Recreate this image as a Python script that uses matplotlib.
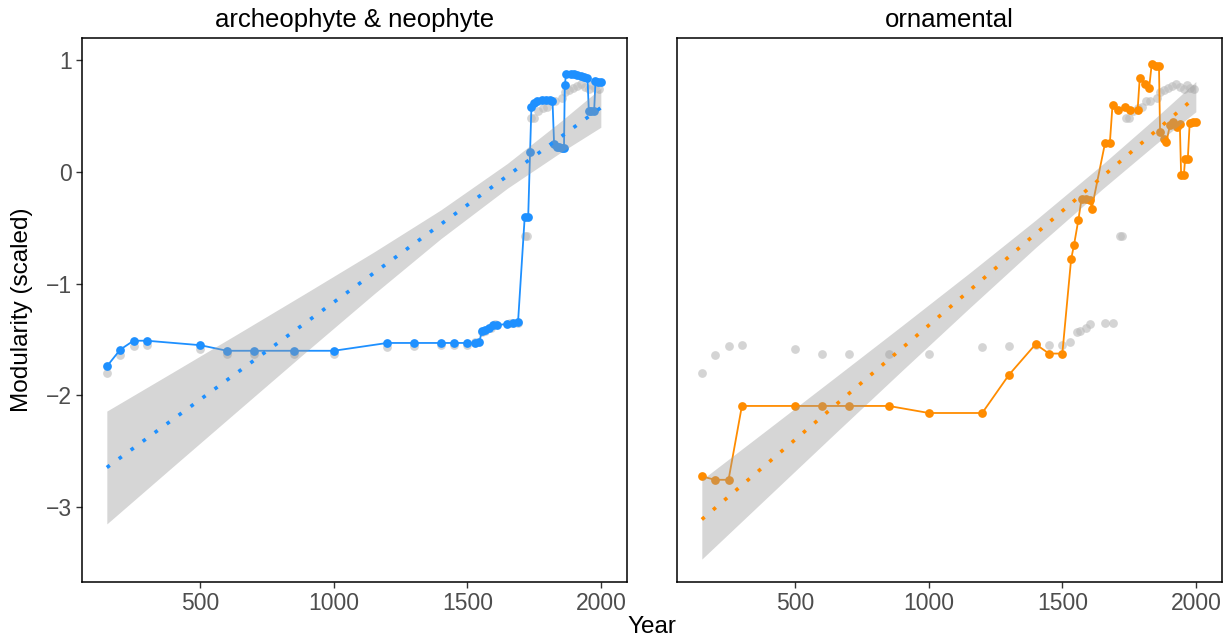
import matplotlib
matplotlib.use("Agg")
import matplotlib.pyplot as plt

plt.rcParams['font.family'] = ['Liberation Sans', 'DejaVu Sans']

# gray reference points (drawn in both panels)
ref_year = [150, 200, 250, 300, 500, 600, 700, 850, 1000, 1200, 1300, 1400, 1450, 1500,
            1530, 1555, 1565, 1590, 1605, 1660, 1690, 1715, 1725, 1740, 1748, 1765, 1785,
            1800, 1815, 1830, 1853, 1865, 1880, 1895, 1910, 1925, 1940, 1955, 1966, 1980, 1995]
ref_val = [-1.795, -1.64, -1.56, -1.55, -1.58, -1.625, -1.625, -1.625, -1.625, -1.565, -1.553,
           -1.545, -1.55, -1.55, -1.52, -1.43, -1.42, -1.40, -1.36, -1.35, -1.35, -0.575, -0.575,
           0.48, 0.48, 0.55, 0.57, 0.58, 0.64, 0.64, 0.66, 0.72, 0.735, 0.75, 0.77, 0.79, 0.76,
           0.745, 0.78, 0.75, 0.745]

# archeophyte & neophyte
an_year = [150, 200, 250, 300, 500, 600, 700, 850, 1000, 1200, 1300, 1400, 1450, 1500,
           1530, 1545, 1555, 1565, 1580, 1595, 1610, 1650, 1670, 1690, 1715, 1728, 1735, 1740,
           1750, 1762, 1778, 1794, 1808, 1819, 1825, 1835, 1845, 1855, 1862, 1865, 1870, 1887,
           1900, 1912, 1925, 1938, 1950, 1955, 1965, 1975, 1980, 1990, 2000]
an_val = [-1.74, -1.59, -1.51, -1.51, -1.55, -1.60, -1.60, -1.60, -1.60, -1.53, -1.53, -1.53,
          -1.53, -1.53, -1.53, -1.52, -1.42, -1.41, -1.40, -1.37, -1.37, -1.36, -1.35, -1.34,
          -0.40, -0.40, 0.18, 0.58, 0.62, 0.64, 0.645, 0.647, 0.645, 0.64, 0.25, 0.22, 0.22,
          0.215, 0.215, 0.776, 0.88, 0.875, 0.874, 0.865, 0.856, 0.85, 0.845, 0.55, 0.545,
          0.55, 0.814, 0.81, 0.81]

# ornamental
orn_year = [150, 200, 250, 300, 500, 600, 700, 850, 1000, 1200, 1300, 1400, 1450, 1500,
            1533, 1544, 1560, 1572, 1590, 1605, 1610, 1660, 1678, 1688, 1710, 1735, 1755, 1782,
            1790, 1810, 1825, 1835, 1850, 1862, 1866, 1880, 1890, 1903, 1915, 1928, 1940, 1945,
            1955, 1960, 1970, 1977, 1990, 2000]
orn_val = [-2.725, -2.755, -2.755, -2.094, -2.094, -2.094, -2.094, -2.094, -2.157, -2.157,
           -1.816, -1.541, -1.625, -1.625, -0.78, -0.65, -0.43, -0.24, -0.24, -0.25, -0.33,
           0.26, 0.26, 0.60, 0.556, 0.58, 0.556, 0.556, 0.845, 0.79, 0.75, 0.97, 0.95, 0.946,
           0.357, 0.30, 0.27, 0.42, 0.446, 0.40, 0.43, -0.03, -0.03, 0.12, 0.12, 0.44, 0.446,
           0.446]

# linear fits with confidence ribbon
fit_year = [150, 400, 650, 900, 1150, 1400, 1650, 1850, 2000]
an_fit = [-2.645, -2.210, -1.775, -1.339, -0.904, -0.469, -0.034, 0.315, 0.576]
an_lo = [-3.150, -2.632, -2.116, -1.601, -1.092, -0.598, -0.145, 0.176, 0.401]
an_hi = [-2.140, -1.788, -1.434, -1.077, -0.716, -0.340, 0.077, 0.454, 0.751]
orn_fit = [-3.110, -2.599, -2.087, -1.576, -1.065, -0.553, -0.042, 0.368, 0.675]
orn_lo = [-3.465, -2.901, -2.337, -1.777, -1.222, -0.676, -0.152, 0.250, 0.540]
orn_hi = [-2.755, -2.297, -1.837, -1.375, -0.908, -0.430, 0.068, 0.486, 0.810]

titles = ["archeophyte & neophyte", "ornamental"]
xticks = [500, 1000, 1500, 2000]
yticks = [1, 0, -1, -2, -3]

fig = plt.figure(figsize=(12.3, 6.4), dpi=100)
ax1 = fig.add_axes([82/1230, 58/640, 545/1230, 544/640])
ax2 = fig.add_axes([677/1230, 58/640, 545/1230, 544/640])

panels = [
    (ax1, an_year, an_val, an_fit, an_lo, an_hi, '#1E90FF'),
    (ax2, orn_year, orn_val, orn_fit, orn_lo, orn_hi, '#FF8C00'),
]

for i, (ax, yr, val, fit, lo, hi, col) in enumerate(panels):
    ax.plot(ref_year, ref_val, 'o', color='#BEBEBE', alpha=0.65, ms=6.3, mec='none', zorder=1)
    ax.plot(yr, val, '-', color=col, lw=1.3, zorder=2)
    ax.plot(yr, val, 'o', color=col, ms=6.3, mec='none', zorder=3)
    ax.fill_between(fit_year, lo, hi, color='#999999', alpha=0.4, lw=0, zorder=4)
    ax.plot(fit_year, fit, color=col, lw=2.6, linestyle=(0, (1.0, 3.1)), zorder=5)

    ax.set_xlim(57, 2098)
    ax.set_ylim(-3.67, 1.2)
    ax.set_xticks(xticks)
    ax.set_xticklabels([str(t) for t in xticks])
    ax.set_yticks(yticks)
    ax.set_yticklabels(['1', '0', '\u22121', '\u22122', '\u22123'])
    for s in ax.spines.values():
        s.set_linewidth(1.1)
        s.set_color('black')
    ax.tick_params(direction='out', length=4, width=1, color='#333333',
                   labelcolor='#4D4D4D', labelsize=16.5, pad=3)
    pos = ax.get_position()
    fig.text((pos.x0 + pos.x1) / 2, 1 - 20/640, titles[i],
             ha='center', va='center', fontsize=18.5, color='black')

ax2.tick_params(axis='y', left=False, labelleft=False)

fig.text(652/1230, 1 - 627/640, 'Year', ha='center', va='center', fontsize=17.5)
fig.text(22/1230, 1 - 310/640, 'Modularity (scaled)', ha='center', va='center',
         rotation=90, fontsize=17.5)

fig.savefig('out.png', dpi=100)
